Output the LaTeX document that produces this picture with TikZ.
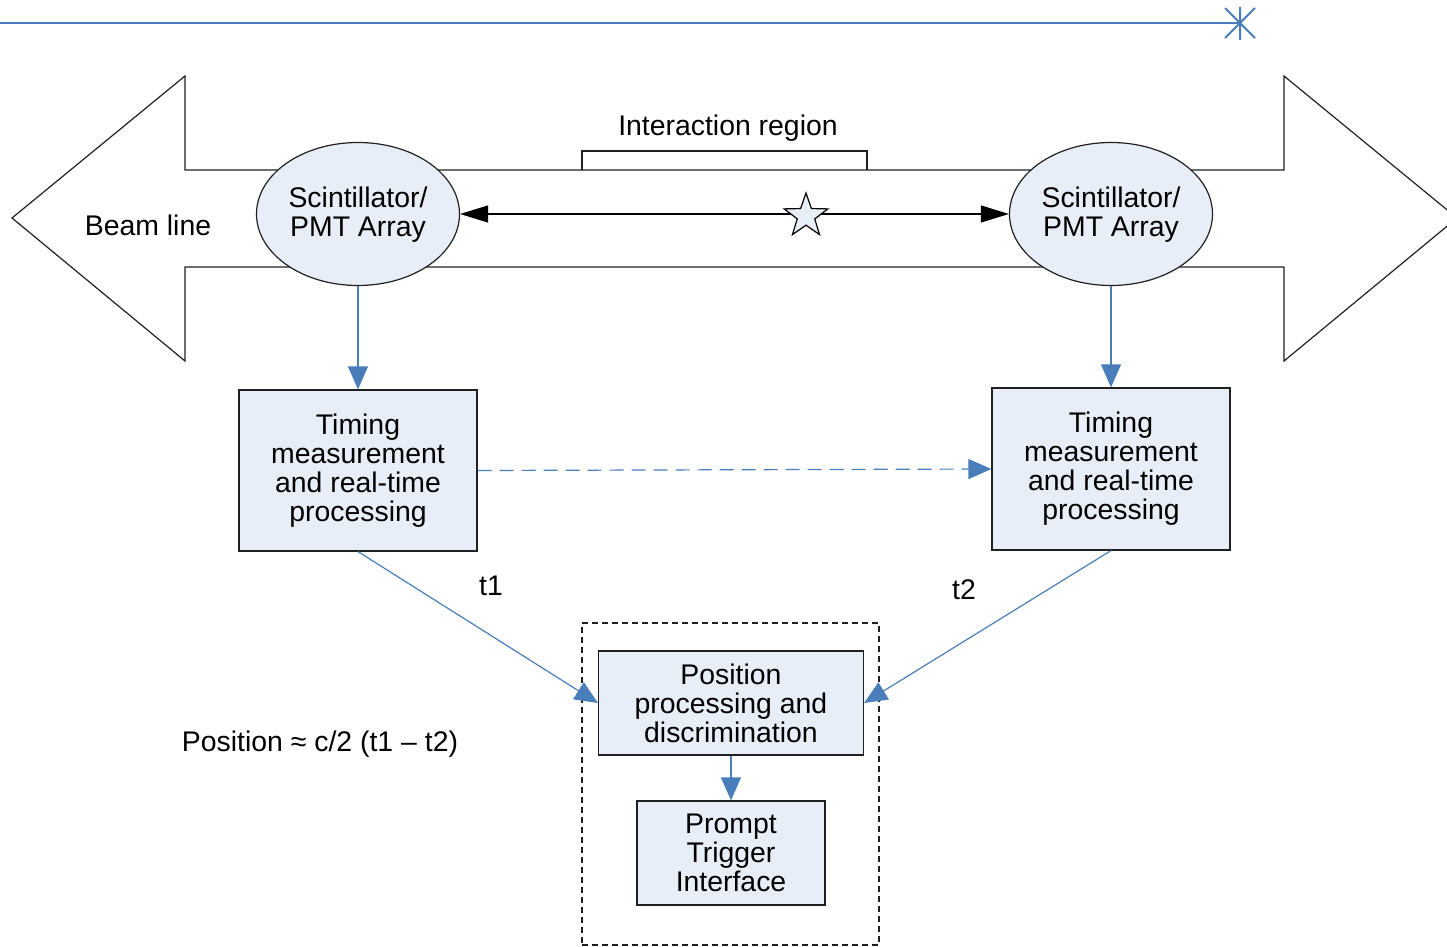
\documentclass[tikz,border=0pt]{standalone}
\usepackage{fontspec}
\setmainfont{Liberation Sans}
\usetikzlibrary{arrows.meta,shapes.geometric}
\definecolor{lblue}{HTML}{E8EEF7}
\definecolor{lineblue}{HTML}{4A7EBB}
\definecolor{outl}{HTML}{202020}
\begin{document}
\begin{tikzpicture}[x=0.5pt,y=-0.5pt,
  txt/.style={font=\fontsize{14.2}{14.5}\selectfont, align=center, inner sep=0pt},
  shapebox/.style={draw=outl, line width=0.6pt, fill=lblue},
  bluearrow/.style={draw=lineblue, line width=0.6pt, -{Triangle[length=11.5pt,width=10pt,fill=lineblue]}},
  blackarrow/.style={draw=black, line width=0.6pt, {Triangle[length=14pt,width=8.5pt]}-{Triangle[length=14pt,width=8.5pt]}},
  blueline/.style={draw=lineblue, line width=0.6pt}]
\useasboundingbox (0,0) rectangle (1447,947);
\clip (0,0) rectangle (1447,947);
% top line with cross end
\coordinate (tl) at (0,23);
\coordinate (tx) at (1240,23);
\draw[blueline, line width=0.8pt] (tl) -- (tx);
\draw[blueline, line width=1pt] (1240,7) -- (1240,40) (1225,8) -- (1255,38) (1225,38) -- (1255,8);
% beam line double arrow
\draw[draw=outl, line width=0.6pt] (12,218) -- (185,76) -- (185,170) -- (1284,170) -- (1284,76) -- (1457,218) -- (1284,361) -- (1284,267) -- (185,267) -- (185,361) -- cycle;
% interaction bracket
\draw[draw=outl, line width=0.6pt] (582,170) -- (582,151) -- (867,151) -- (867,170);
\node[txt] (ir) at (728,128) {Interaction region};
\node[txt] (bl) at (148,225) {Beam line};
% ellipses
\node[shapebox, ellipse, minimum width=101.5pt, minimum height=71.5pt, inner sep=0pt] (e1) at (358,214) {};
\node[txt] (e1t) at (358,215) {Scintillator/\\PMT Array};
\node[shapebox, ellipse, minimum width=101.5pt, minimum height=71.5pt, inner sep=0pt] (e2) at (1111,214) {};
\node[txt] (e2t) at (1111,215) {Scintillator/\\PMT Array};
% black double arrow with star
\draw[blackarrow] (e1.east) -- (e2.west);
\node[star, star points=5, star point ratio=2.5, draw=black, fill=lblue, line width=0.6pt, inner sep=0pt, minimum size=23pt] (star) at (806,216) {};
% timing boxes
\node[shapebox, txt, minimum width=119pt, minimum height=80.5pt] (t1box) at (358,470.5) {Timing\\measurement\\and real-time\\processing};
\node[shapebox, txt, minimum width=119pt, minimum height=81pt] (t2box) at (1111,469) {Timing\\measurement\\and real-time\\processing};
% dashed frame
\node[draw=outl, dash pattern=on 3pt off 2pt, line width=0.6pt, minimum width=148.5pt, minimum height=161pt, inner sep=0pt] (frame) at (730.5,784) {};
\node[shapebox, txt, minimum width=132.5pt, minimum height=52pt] (pos) at (731,703) {Position\\processing and\\discrimination};
\node[shapebox, txt, minimum width=94pt, minimum height=52pt] (pti) at (731,853) {Prompt\\Trigger\\Interface};
% connectors
\draw[bluearrow] (e1.south) -- (t1box.north);
\draw[bluearrow] (e2.south) -- (t2box.north);
\draw[bluearrow, dash pattern=on 7pt off 4pt] (t1box.east) -- (t2box.west);
\draw[bluearrow] (t1box.south) -- (pos.west);
\draw[bluearrow] (t2box.south) -- (pos.east);
\draw[bluearrow] (pos.south) -- (pti.north);
% labels
\node[txt] (l1) at (491,586) {t1};
\node[txt] (l2) at (964,590) {t2};
\node[txt] (form) at (320,744) {Position ≈ c/2 (t1 – t2)};
\end{tikzpicture}
\end{document}
